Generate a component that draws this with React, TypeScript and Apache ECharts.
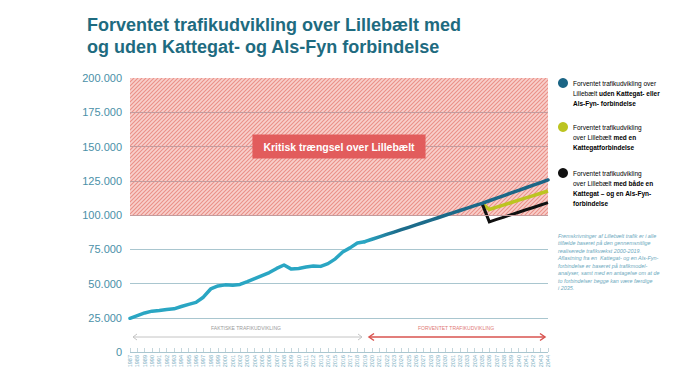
import React, { useEffect, useRef } from 'react';
import * as echarts from 'echarts';

const years = [
  '1987', '1988', '1989', '1990', '1991', '1992', '1993', '1994', '1995', '1996',
  '1997', '1998', '1999', '2000', '2001', '2002', '2003', '2004', '2005', '2006',
  '2007', '2008', '2009', '2010', '2011', '2012', '2013', '2014', '2015', '2016',
  '2017', '2018', '2019', '2020', '2021', '2022', '2023', '2024', '2025', '2026',
  '2027', '2028', '2029', '2030', '2031', '2032', '2033', '2034', '2035', '2036',
  '2037', '2038', '2039', '2040', '2041', '2042', '2043', '2044',
];

// Faktiske trafikudvikling 1987-2019
const actualValues = [
  24600, 26500, 28500, 29800, 30300, 31000, 31500, 33200, 34800, 36200,
  40000, 46000, 48200, 49000, 48800, 49300, 51300, 53500, 55800, 58000,
  61000, 63500, 60500, 61000, 62000, 62800, 62500, 64500, 68000, 73000,
  76000, 79500, 80500,
];
const actualStart = '1987';

// Forventet uden Kattegat- eller Als-Fyn-forbindelse, 2019-2044
const withoutValues = [
  80500, 82300, 84000, 85800, 87500, 89300, 91000, 92800, 94500, 96300,
  98000, 99800, 101500, 103300, 105000, 106800, 108500, 110400, 112300, 114200,
  116100, 118000, 119900, 121800, 123700, 125600,
];
const withoutStart = '2019';

// Med en Kattegatforbindelse, 2035-2044
const kattegatValues = [108500, 104000, 105700, 107400, 109100, 110800, 112500, 114200, 115900, 117500];
const kattegatStart = '2035';

// Med både Kattegat- og Als-Fyn-forbindelse, 2035-2044
const bothValues = [108500, 95000, 96800, 98500, 100300, 102000, 103800, 105500, 107300, 109000];
const bothStart = '2035';

const criticalFrom = 100000;
const criticalTo = 200000;
const criticalGridValues = [100000, 125000, 150000, 175000];

const FONT = "'Liberation Sans', Arial, sans-serif";

function place(values: number[], start: string): (number | null)[] {
  const s = years.indexOf(start);
  return years.map((_, i) => (i >= s && i - s < values.length ? values[i - s] : null));
}

function fmt(v: number): string {
  return String(v).replace(/\B(?=(\d{3})+(?!\d))/g, '.');
}

export default function App() {
  const ref = useRef<HTMLDivElement>(null);

  useEffect(() => {
    const chart = echarts.init(ref.current!, null, { renderer: 'svg' });

    const stripeSvg =
      '<svg xmlns="http://www.w3.org/2000/svg" width="4" height="4">' +
      '<rect width="4" height="4" fill="#f8d0cc"/>' +
      '<path d="M-1,1 l2,-2 M0,4 l4,-4 M3,5 l2,-2" stroke="#eb9088" stroke-width="1.1"/>' +
      '</svg>';
    const stripeUrl = 'data:image/svg+xml;charset=utf-8,' + encodeURIComponent(stripeSvg);

    const legendRich = {
      n: { fontSize: 6.5, lineHeight: 10, color: '#7fb1c2', fontFamily: FONT },
      b: { fontSize: 6.5, lineHeight: 10, color: '#1f5f75', fontWeight: 'bold', fontFamily: FONT },
    };

    const arrowGrey = '#c4c4c4';
    const arrowRed = '#d9534f';

    const option: any = {
      animation: false,
      backgroundColor: '#ffffff',
      title: {
        text: 'Forventet trafikudvikling over Lillebælt med\nog uden Kattegat- og Als-Fyn forbindelse',
        left: 82,
        top: 9,
        textStyle: {
          fontSize: 18,
          lineHeight: 22,
          fontWeight: 'bold',
          color: '#1e6b80',
          fontFamily: FONT,
        },
      },
      grid: { left: 130, right: 152, top: 78, bottom: 30, containLabel: false },
      xAxis: {
        type: 'category',
        data: years,
        boundaryGap: false,
        axisLine: { show: false },
        axisTick: { show: true, inside: true, length: 4, interval: 0, lineStyle: { color: '#c4d6dc' } },
        axisLabel: {
          interval: 0,
          rotate: 90,
          fontSize: 5.5,
          color: '#7aaebf',
          margin: 3,
          fontFamily: FONT,
        },
        splitLine: { show: false },
      },
      yAxis: {
        type: 'value',
        min: 0,
        max: 200000,
        interval: 25000,
        axisLine: { show: false },
        axisTick: { show: false },
        axisLabel: {
          formatter: (v: number) => fmt(v),
          fontSize: 11,
          color: '#4a90a8',
          margin: 8,
          fontFamily: FONT,
        },
        splitLine: { show: true, lineStyle: { color: '#a9c6cf', width: 1 } },
      },
      series: [
        {
          name: 'critical-area',
          type: 'line',
          data: [],
          z: 1,
          silent: true,
          markArea: {
            silent: true,
            itemStyle: {
              color: { image: stripeUrl, repeat: 'repeat', imageWidth: 4, imageHeight: 4 },
            },
            label: { show: false },
            data: [[{ xAxis: years[0], yAxis: criticalFrom }, { xAxis: years[years.length - 1], yAxis: criticalTo }]],
          },
        },
        {
          name: 'critical-grid',
          type: 'line',
          data: [],
          z: 2,
          silent: true,
          markLine: {
            silent: true,
            symbol: 'none',
            label: { show: false },
            lineStyle: { color: '#c39c9e', width: 1, type: 'solid' },
            data: criticalGridValues.map((v) => ({ yAxis: v })),
          },
        },
        {
          name: 'Faktiske trafikudvikling',
          type: 'line',
          data: place(actualValues, actualStart),
          showSymbol: false,
          symbol: 'none',
          z: 4,
          lineStyle: { color: '#2aa6c3', width: 3.5, cap: 'round', join: 'round' },
          itemStyle: { color: '#2aa6c3' },
        },
        {
          name: 'Uden Kattegat- eller Als-Fyn-forbindelse',
          type: 'line',
          data: place(withoutValues, withoutStart),
          showSymbol: false,
          symbol: 'none',
          z: 5,
          lineStyle: {
            width: 3.5,
            cap: 'round',
            join: 'round',
            color: {
              type: 'linear',
              x: 0,
              y: 0,
              x2: 1,
              y2: 0,
              colorStops: [
                { offset: 0, color: '#2aa6c3' },
                { offset: 0.18, color: '#1d6d8c' },
                { offset: 1, color: '#1b6585' },
              ],
            },
          },
          itemStyle: { color: '#1b6585' },
        },
        {
          name: 'Med en Kattegatforbindelse',
          type: 'line',
          data: place(kattegatValues, kattegatStart),
          showSymbol: false,
          symbol: 'none',
          z: 4,
          lineStyle: { color: '#bcc421', width: 3.5, join: 'miter' },
          itemStyle: { color: '#bcc421' },
        },
        {
          name: 'Med både Kattegat- og Als-Fyn-forbindelse',
          type: 'line',
          data: place(bothValues, bothStart),
          showSymbol: false,
          symbol: 'none',
          z: 4,
          lineStyle: { color: '#111111', width: 3, join: 'miter' },
          itemStyle: { color: '#111111' },
        },
      ],
      graphic: [
        // Critical label box
        {
          type: 'text',
          x: 339,
          y: 146.5,
          z: 100,
          silent: true,
          style: {
            text: 'Kritisk trængsel over Lillebælt',
            fill: '#ffffff',
            fontWeight: 'bold',
            fontSize: 10.5,
            fontFamily: FONT,
            align: 'center',
            verticalAlign: 'middle',
            backgroundColor: '#e25c5c',
            padding: [7, 11, 6, 11],
          },
        },
        // Legend
        { type: 'circle', shape: { cx: 563, cy: 83, r: 5 }, style: { fill: '#1b6585' } },
        {
          type: 'text',
          x: 573,
          y: 78,
          style: {
            text: '{n|Forventet trafikudvikling over}\n{n|Lillebælt }{b|uden Kattegat- eller}\n{b|Als-Fyn- forbindelse}',
            rich: legendRich,
          },
        },
        { type: 'circle', shape: { cx: 563, cy: 127, r: 5 }, style: { fill: '#bcc421' } },
        {
          type: 'text',
          x: 573,
          y: 122,
          style: {
            text: '{n|Forventet trafikudvikling}\n{n|over Lillebælt }{b|med en}\n{b|Kattegatforbindelse}',
            rich: legendRich,
          },
        },
        { type: 'circle', shape: { cx: 563, cy: 173, r: 5 }, style: { fill: '#111111' } },
        {
          type: 'text',
          x: 573,
          y: 168,
          style: {
            text:
              '{n|Forventet trafikudvikling}\n{n|over Lillebælt }{b|med både en}\n{b|Kattegat – og en Als-Fyn-}\n{b|forbindelse}',
            rich: legendRich,
          },
        },
        // Note
        {
          type: 'text',
          x: 558,
          y: 232,
          style: {
            text:
              'Fremskrivninger af Lillebælt trafik er i alle\n' +
              'tilfælde baseret på den gennemsnitlige\n' +
              'realiserede trafikvækst 2000-2019.\n' +
              'Aflastning fra en  Kattegat- og en Als-Fyn-\n' +
              'forbindelse er baseret på trafikmodel-\n' +
              'analyser, samt med en antagelse om at de\n' +
              'to forbindelser begge kan være færdige\n' +
              'i 2035.',
            fontSize: 5.4,
            lineHeight: 7.5,
            fontStyle: 'italic',
            fill: '#6ea9be',
            fontFamily: FONT,
          },
        },
        // Bottom annotations
        {
          type: 'text',
          x: 246,
          y: 328,
          style: {
            text: 'FAKTISKE TRAFIKUDVIKLING',
            fontSize: 5,
            fill: '#9a9a9a',
            align: 'center',
            verticalAlign: 'middle',
            fontFamily: FONT,
          },
        },
        { type: 'line', shape: { x1: 133, y1: 337, x2: 362, y2: 337 }, style: { stroke: arrowGrey, lineWidth: 1 } },
        {
          type: 'polyline',
          shape: { points: [[137, 334], [133, 337], [137, 340]] },
          style: { stroke: arrowGrey, lineWidth: 1, fill: 'none' },
        },
        {
          type: 'polyline',
          shape: { points: [[358, 334], [362, 337], [358, 340]] },
          style: { stroke: arrowGrey, lineWidth: 1, fill: 'none' },
        },
        {
          type: 'text',
          x: 456,
          y: 328,
          style: {
            text: 'FORVENTET TRAFIKUDVIKLING',
            fontSize: 5,
            fill: '#e07a76',
            align: 'center',
            verticalAlign: 'middle',
            fontFamily: FONT,
          },
        },
        { type: 'line', shape: { x1: 369, y1: 337, x2: 545, y2: 337 }, style: { stroke: arrowRed, lineWidth: 1.5 } },
        {
          type: 'polyline',
          shape: { points: [[374, 333.5], [369, 337], [374, 340.5]] },
          style: { stroke: arrowRed, lineWidth: 1.5, fill: 'none' },
        },
        {
          type: 'polyline',
          shape: { points: [[540, 333.5], [545, 337], [540, 340.5]] },
          style: { stroke: arrowRed, lineWidth: 1.5, fill: 'none' },
        },
      ],
    };

    chart.setOption(option);
    return () => chart.dispose();
  }, []);

  return (
    <div
      ref={ref}
      style={{ position: 'fixed', left: 0, top: 0, width: 700, height: 382, background: '#ffffff' }}
    />
  );
}
